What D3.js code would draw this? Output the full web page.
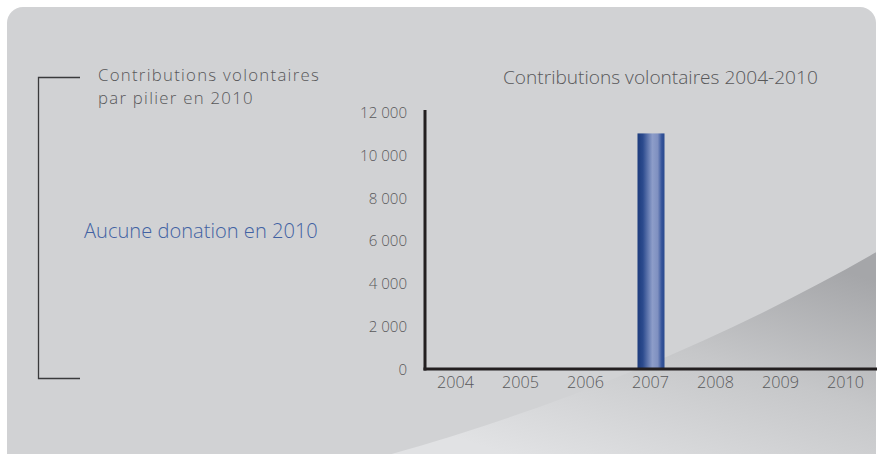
<!DOCTYPE html>
<html><head><meta charset="utf-8">
<script src="https://cdn.jsdelivr.net/npm/d3@7"></script>
<style>body{margin:0;background:#fff;}svg{display:block;}</style>
</head><body>
<script>
const years = ["2004","2005","2006","2007","2008","2009","2010"];
const values = [0, 0, 0, 11000, 0, 0, 0];
const yTicks = [0, 2000, 4000, 6000, 8000, 10000, 12000];
const chartTitle = "Contributions volontaires 2004-2010";
const leftTitle = ["Contributions volontaires", "par pilier en 2010"];
const leftNote = "Aucune donation en 2010";

const W = 877, H = 454;
const svg = d3.select("body").append("svg").attr("width", W).attr("height", H);
const defs = svg.append("defs");

const FONT = "'Open Sans', Lato, sans-serif";
const WEIGHT = 300;

function measure(str, size) {
  const t = svg.append("text").attr("font-family", FONT).attr("font-weight", WEIGHT)
    .attr("font-size", size).text(str);
  const w = t.node().getComputedTextLength();
  t.remove();
  return w;
}
// fit a font size so that a text has a given width
function fitSize(str, targetW) { return 20 * targetW / measure(str, 20); }
// letter spacing to reach a width at a fixed size
function fitSpacing(str, size, targetW) { return (targetW - measure(str, size)) / str.length; }

// panel
const cp = defs.append("clipPath").attr("id","panel");
cp.append("rect").attr("x",7).attr("y",7).attr("width",869).attr("height",470).attr("rx",16);
const g0 = svg.append("g").attr("clip-path","url(#panel)");
g0.append("rect").attr("x",7).attr("y",7).attr("width",869).attr("height",470).attr("fill","#d1d2d4");

// swoosh
const sg = defs.append("linearGradient").attr("id","swoosh").attr("x1","100%").attr("y1","15%").attr("x2","35%").attr("y2","100%");
sg.append("stop").attr("offset","0").attr("stop-color","#a5a6a9");
sg.append("stop").attr("offset","0.45").attr("stop-color","#c6c7c9");
sg.append("stop").attr("offset","1").attr("stop-color","#e1e2e4");
g0.append("path")
  .attr("d","M355,464 C540,415 715,345 880,250 L880,464 Z")
  .attr("fill","url(#swoosh)");

// scales
const x = d3.scaleBand().domain(years).range([423, 878]);
const y = d3.scaleLinear().domain([0, 12000]).range([369, 112]);

// bar gradient
const bg = defs.append("linearGradient").attr("id","bar").attr("x1","0").attr("x2","1").attr("y1","0").attr("y2","0");
[[0,"#1c3b7c"],[0.2,"#2c4b8e"],[0.55,"#8d9dc9"],[0.75,"#7f90c0"],[0.9,"#33539a"],[1,"#2a4a8e"]]
  .forEach(([o,c]) => bg.append("stop").attr("offset",o).attr("stop-color",c));

const barW = 27;
svg.selectAll("rect.bar").data(years.map((d,i)=>({year:d, v:values[i]})).filter(d=>d.v>0))
  .enter().append("rect").attr("class","bar")
  .attr("x", d => x(d.year) + x.bandwidth()/2 - barW/2 + 0.5)
  .attr("width", barW)
  .attr("y", d => y(d.v))
  .attr("height", d => y(0) - y(d.v))
  .attr("fill","url(#bar)");

const fmt = d => d3.format(",")(d).replace(/,/g, " ");
const tickSize = fitSize("2004", 37);
const yTickSize = fitSize(fmt(12000), 47);

// axes
const yAxis = d3.axisLeft(y).tickValues(yTicks).tickSize(0).tickPadding(18).tickFormat(fmt);
const ya = svg.append("g").attr("transform","translate(425,0)").call(yAxis);
ya.select(".domain").remove();
ya.selectAll("text").attr("font-family",FONT).attr("font-weight",WEIGHT)
  .attr("font-size",yTickSize).attr("fill","#59595b").attr("dy","0.36em");

const xAxis = d3.axisBottom(x).tickSize(0).tickPadding(0);
const xa = svg.append("g").attr("transform","translate(0,369)").call(xAxis);
xa.select(".domain").remove();
xa.selectAll("text").attr("font-family",FONT).attr("font-weight",WEIGHT)
  .attr("font-size",tickSize).attr("fill","#59595b").attr("y",19).attr("dy",0);

svg.append("line").attr("x1",425).attr("x2",425).attr("y1",110).attr("y2",370.5).attr("stroke","#231f20").attr("stroke-width",3);
svg.append("line").attr("x1",423.5).attr("x2",877).attr("y1",369).attr("y2",369).attr("stroke","#231f20").attr("stroke-width",3);

// titles
svg.append("text").attr("x",503).attr("y",84)
  .attr("font-family",FONT).attr("font-weight",WEIGHT).attr("font-size",fitSize(chartTitle,315))
  .attr("fill","#58585a").text(chartTitle);

svg.append("path").attr("d","M80,77.5 H38.5 V378.5 H80").attr("fill","none").attr("stroke","#3a3a3c").attr("stroke-width",1.3);
const ltSize = 16.8;
const ltSpacing = fitSpacing(leftTitle[0], ltSize, 222);
leftTitle.forEach((t,i) => svg.append("text").attr("x",98).attr("y",80.5+i*23)
  .attr("font-family",FONT).attr("font-weight",WEIGHT).attr("font-size",ltSize)
  .attr("letter-spacing",ltSpacing).attr("fill","#58585a").text(t));
svg.append("text").attr("x",84).attr("y",238)
  .attr("font-family",FONT).attr("font-weight",WEIGHT).attr("font-size",fitSize(leftNote,234))
  .attr("fill","#4262a3").text(leftNote);
</script>
</body></html>
